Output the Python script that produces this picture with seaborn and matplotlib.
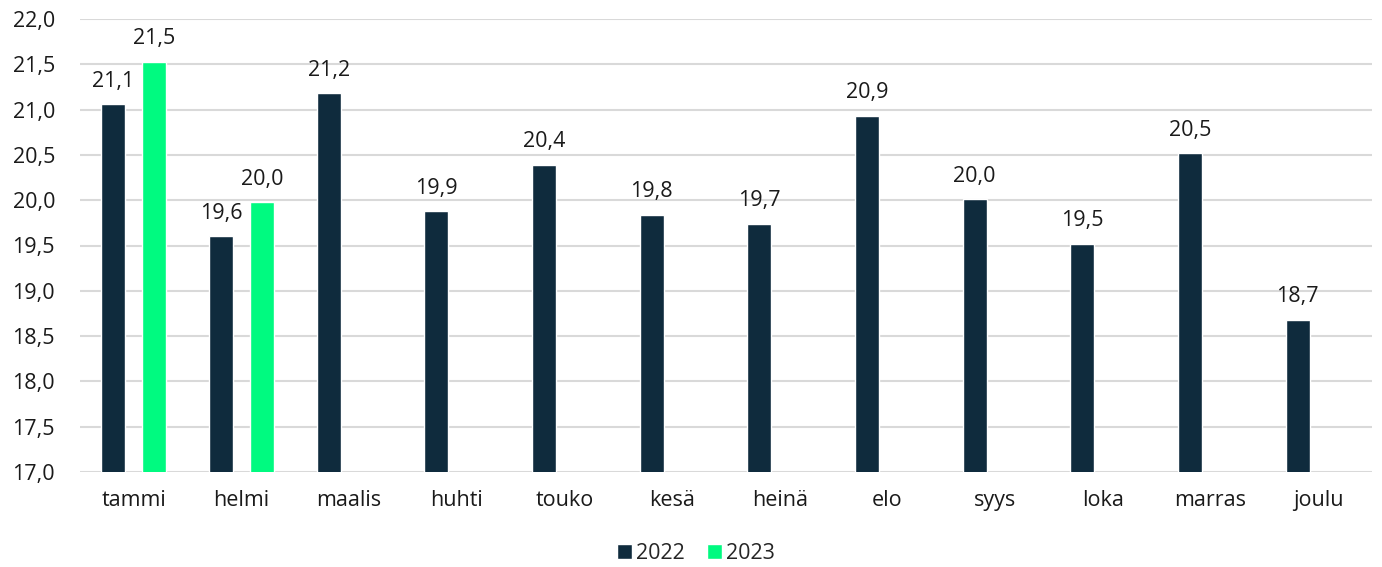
import numpy as np
import pandas as pd
import matplotlib
matplotlib.use("Agg")
import matplotlib.pyplot as plt
import seaborn as sns

months = ["tammi", "helmi", "maalis", "huhti", "touko", "kesä", "heinä",
          "elo", "syys", "loka", "marras", "joulu"]
values_2022 = [21.06, 19.60, 21.18, 19.88, 20.39, 19.84, 19.74, 20.93, 20.01, 19.52, 20.52, 18.68]
values_2023 = [21.53, 19.98] + [np.nan] * 10
years = ["2022", "2023"]
colors = ["#0f2b3d", "#00fa80"]

df = pd.DataFrame({
    "month": months * 2,
    "year": [years[0]] * 12 + [years[1]] * 12,
    "value": values_2022 + values_2023,
})

sns.set_theme(style="white")
plt.rcParams["font.family"] = ["Open Sans", "DejaVu Sans"]
FS = 15.5

fig = plt.figure(figsize=(13.82, 5.67), dpi=100)
ax = fig.add_axes([80 / 1382, 1 - 472 / 567, 1292 / 1382, 453 / 567])

sns.barplot(data=df, x="month", y="value", hue="year", order=months,
            hue_order=years, palette=colors, width=0.76, gap=0.41,
            ax=ax, legend=True, saturation=1)

ax.set_ylim(17.0, 22.0)
ax.set_xlim(-0.5, 11.5)
yt = np.arange(17.0, 22.01, 0.5)
ax.set_yticks(yt)
ax.set_yticklabels([f"{v:.1f}".replace(".", ",") for v in yt], fontsize=FS, color="#1a1a1a")
ax.tick_params(axis="x", labelsize=FS, colors="#1a1a1a", pad=13, length=0)
ax.tick_params(axis="y", pad=18, length=0)
ax.grid(axis="y", color="#d9d9d9", linewidth=1.5)
ax.set_axisbelow(True)
for s in ax.spines.values():
    s.set_visible(False)
ax.set_xlabel("")
ax.set_ylabel("")

for cont in ax.containers:
    labels = ["" if np.isnan(v) else f"{v:.1f}".replace(".", ",") for v in cont.datavalues]
    ax.bar_label(cont, labels=labels, padding=9, fontsize=FS, color="#1a1a1a")

ax.legend(loc="upper center", bbox_to_anchor=(0.5 - 30 / 1292, -0.115), ncol=2,
          frameon=False, fontsize=FS, handlelength=0.7, handleheight=0.7,
          handletextpad=0.2, columnspacing=1.0)

fig.savefig("out.png", dpi=100)
